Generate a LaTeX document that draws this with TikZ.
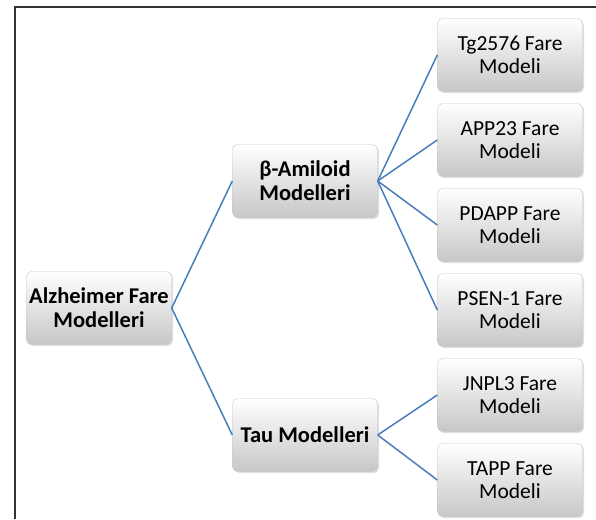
\documentclass[tikz,border=0pt]{standalone}
\usepackage{fontspec}
\setmainfont{Carlito}
\usetikzlibrary{shadows}
\definecolor{linkblue}{RGB}{74,126,187}

\begin{document}
\begin{tikzpicture}[x=1pt,y=-1pt,
  modelbox/.style={rounded corners=5pt, draw=black!22, top color=white, bottom color=black!22,
    minimum width=145pt, minimum height=73pt, align=center, inner sep=2pt,
    font=\fontsize{21.5}{23.5}\selectfont, drop shadow={opacity=0.25, shadow xshift=1.5pt, shadow yshift=-1.5pt}},
  boldbox/.style={modelbox, font=\bfseries\fontsize{22.5}{24}\selectfont},
  link/.style={linkblue, line width=1.5pt}]
\useasboundingbox (0,0) rectangle (596,519);

% outer frame (only top and left edges show)
\draw[black!80, line width=1.6pt] (15,519) -- (15,7) -- (596,7);

% root and first level
\node[boldbox] (root) at (99,308) {Alzheimer Fare\\Modelleri};
\node[boldbox] (amiloid) at (305,181) {β-Amiloid\\Modelleri};
\node[boldbox] (tau) at (305,435) {Tau Modelleri};

% leaves
\node[modelbox] (tg) at (510,55) {Tg2576 Fare\\Modeli};
\node[modelbox] (app) at (510,140) {APP23 Fare\\Modeli};
\node[modelbox] (pdapp) at (510,225) {PDAPP Fare\\Modeli};
\node[modelbox] (psen) at (510,310) {PSEN-1 Fare\\Modeli};
\node[modelbox] (jnpl) at (510,395) {JNPL3 Fare\\Modeli};
\node[modelbox] (tapp) at (510,480) {TAPP Fare\\Modeli};

% connectors
\draw[link] (root.east) -- (amiloid.west);
\draw[link] (root.east) -- (tau.west);
\foreach \leaf in {tg,app,pdapp,psen}
  \draw[link] (amiloid.east) -- (\leaf.west);
\foreach \leaf in {jnpl,tapp}
  \draw[link] (tau.east) -- (\leaf.west);

\end{tikzpicture}
\end{document}
